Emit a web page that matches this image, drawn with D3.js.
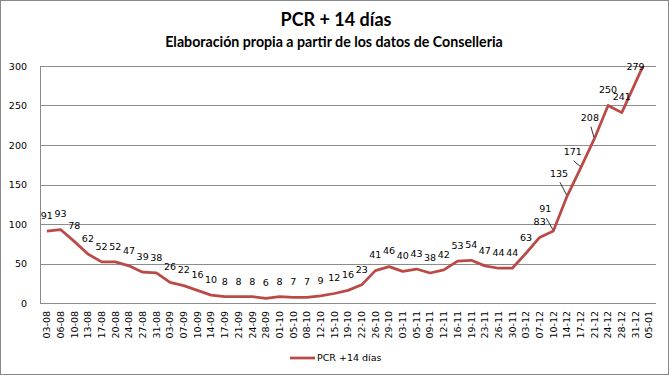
<!DOCTYPE html>
<html>
<head>
<meta charset="utf-8">
<script src="https://cdn.jsdelivr.net/npm/d3@7"></script>
<style>
  body { margin: 0; background: #fff; }
  text { font-family: "DejaVu Sans", Verdana, sans-serif; fill: #000; }
  .title { font-family: Lato, "Open Sans", sans-serif; font-weight: bold; }
</style>
</head>
<body>
<svg id="chart"></svg>
<script>
// PCR + 14 dias
const dates = ["03-08", "06-08", "10-08", "13-08", "17-08", "20-08", "24-08", "27-08", "31-08",
    "03-09", "07-09", "10-09", "14-09", "17-09", "21-09", "24-09", "28-09",
    "01-10", "05-10", "08-10", "12-10", "15-10", "19-10", "22-10", "26-10", "29-10",
    "03-11", "05-11", "09-11", "12-11", "16-11", "19-11", "23-11", "26-11", "30-11",
    "03-12", "07-12", "10-12", "14-12", "17-12", "21-12", "24-12", "28-12", "31-12", "05-01"];

const pcr14 = [91, 93, 78, 62, 52, 52, 47, 39, 38,
    26, 22, 16, 10, 8, 8, 8, 6,
    8, 7, 7, 9, 12, 16, 23, 41, 46,
    40, 43, 38, 42, 53, 54, 47, 44, 44,
    63, 83, 91, 135, 171, 208, 250, 241, 279, 317];

const yTicks = [0, 50, 100, 150, 200, 250, 300];

const seriesName = "PCR +14 días";

// labels that Excel moved off the line, with a leader line back to the point
const movedLabels = {
    "10-12": { dx: -8, dy: -22 },
    "14-12": { dx: -8, dy: -23 },
    "17-12": { dx: -8, dy: -16 },
    "21-12": { dx: -4.5, dy: -21 }
};

const W = 670, H = 377;
const margin = { top: 66, right: 14, bottom: 74, left: 40 },
    width = W - margin.left - margin.right,
    height = H - margin.top - margin.bottom;

const lineColor = "#bb4a47";
const gridColor = "#8c8c8c";

const root = d3.select("#chart")
    .attr("width", W)
    .attr("height", H);

root.append("rect")
    .attr("x", 0.5).attr("y", 0.5)
    .attr("width", W - 2).attr("height", H - 3)
    .attr("fill", "#fff")
    .attr("stroke", "#888");

root.append("text")
    .attr("class", "title")
    .attr("x", 336)
    .attr("y", 26)
    .attr("text-anchor", "middle")
    .style("font-size", "18px")
    .text("PCR + 14 días");

root.append("text")
    .attr("class", "title")
    .attr("x", 334)
    .attr("y", 47)
    .attr("text-anchor", "middle")
    .style("font-size", "14.2px")
    .text("Elaboración propia a partir de los datos de Conselleria");

const svg = root.append("g")
    .attr("transform", `translate(${margin.left},${margin.top})`);

const x = d3.scaleBand().domain(dates).range([0, width]).padding(0);
const y = d3.scaleLinear().domain([0, 300]).range([height, 0]);
const cx = d => x(d) + x.bandwidth() / 2;

// gridlines
svg.selectAll(".grid")
    .data(yTicks.filter(t => t > 0))
    .enter().append("line")
    .attr("x1", 0).attr("x2", width)
    .attr("y1", d => Math.round(y(d)) + 0.5)
    .attr("y2", d => Math.round(y(d)) + 0.5)
    .attr("stroke", gridColor)
    .attr("stroke-width", 1);

// y axis
const yAxis = svg.append("g")
    .call(d3.axisLeft(y).tickValues(yTicks).tickSize(0).tickPadding(13));
yAxis.select(".domain").attr("stroke", gridColor).attr("d", `M0.5,0V${height}`);
yAxis.selectAll("text").style("font-size", "9.5px").attr("font-family", null);

// x axis
const xAxis = svg.append("g")
    .attr("transform", `translate(0,${height})`)
    .call(d3.axisBottom(x).tickSize(0).tickPadding(0));
xAxis.select(".domain").attr("stroke", gridColor).attr("d", `M0,0.5H${width}`);
xAxis.selectAll("text")
    .attr("font-family", null)
    .style("font-size", "9.5px")
    .attr("text-anchor", "end")
    .attr("transform", "translate(0,8) rotate(-90)")
    .attr("x", 0)
    .attr("y", 0)
    .attr("dy", "0.35em");

// clip the line to the plot area
svg.append("clipPath")
    .attr("id", "plot-clip")
    .append("rect")
    .attr("x", 0).attr("y", 0)
    .attr("width", width).attr("height", height);

const points = dates.map((d, i) => ({ date: d, value: pcr14[i] }));

const valueline = d3.line()
    .x(d => cx(d.date))
    .y(d => y(d.value));

svg.append("path")
    .datum(points)
    .attr("clip-path", "url(#plot-clip)")
    .attr("fill", "none")
    .attr("stroke", lineColor)
    .attr("stroke-width", 2.75)
    .attr("stroke-linejoin", "round")
    .attr("d", valueline);

// data labels (points above the axis maximum get none)
const shown = points.filter(d => d.value <= 300);

svg.selectAll(".leader")
    .data(shown.filter(d => movedLabels[d.date]))
    .enter().append("line")
    .attr("x1", d => cx(d.date) + movedLabels[d.date].dx + 1)
    .attr("y1", d => y(d.value) + movedLabels[d.date].dy + 9)
    .attr("x2", d => cx(d.date) - 0.5)
    .attr("y2", d => y(d.value) - 1.5)
    .attr("stroke", "#000")
    .attr("stroke-width", 0.8);

svg.selectAll(".dlabel")
    .data(shown)
    .enter().append("text")
    .attr("class", "dlabel")
    .attr("x", d => cx(d.date) + (movedLabels[d.date] ? movedLabels[d.date].dx : 0))
    .attr("y", d => y(d.value) + (movedLabels[d.date] ? movedLabels[d.date].dy : -15.5))
    .attr("dy", "0.35em")
    .attr("text-anchor", "middle")
    .style("font-size", "9.5px")
    .text(d => d.value);

// legend
const legend = root.append("g")
    .attr("transform", "translate(290,358)");

legend.append("line")
    .attr("x1", 0).attr("x2", 25)
    .attr("y1", 0).attr("y2", 0)
    .attr("stroke", lineColor)
    .attr("stroke-width", 2.75);

legend.append("text")
    .attr("x", 27)
    .attr("y", 0)
    .attr("dy", "0.35em")
    .style("font-size", "9.5px")
    .text(seriesName);
</script>
</body>
</html>
